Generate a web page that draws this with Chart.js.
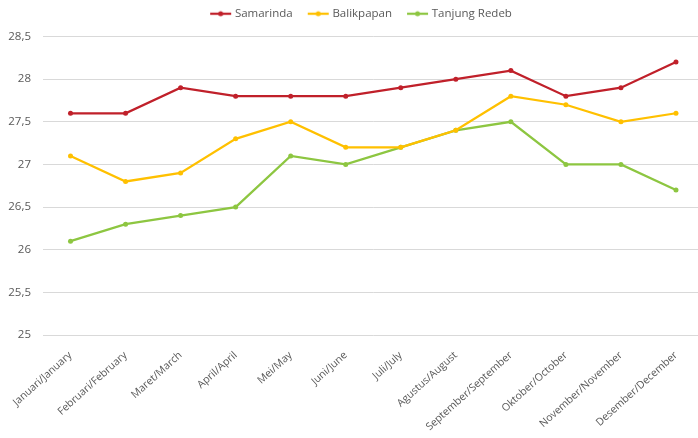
<!DOCTYPE html>
<html>
<head>
<meta charset="utf-8">
<script src="https://cdn.jsdelivr.net/npm/chart.js@4/dist/chart.umd.min.js"></script>
<style>
  html, body { margin: 0; padding: 0; background: #fff; overflow: hidden; width: 698px; height: 438px; }
  #c { display: block; }
</style>
</head>
<body>
<canvas id="c" width="706" height="438"></canvas>
<script>
const categories = ["Januari/January","Februari/February","Maret/March","April/April","Mei/May","Juni/June","Juli/July","Agustus/August","September/September","Oktober/October","November/November","Desember/December"];
const seriesNames = ["Samarinda", "Balikpapan", "Tanjung Redeb"];
const samarinda = [27.6, 27.6, 27.9, 27.8, 27.8, 27.8, 27.9, 28.0, 28.1, 27.8, 27.9, 28.2];
const balikpapan = [27.1, 26.8, 26.9, 27.3, 27.5, 27.2, 27.2, 27.4, 27.8, 27.7, 27.5, 27.6];
const tanjungRedeb = [26.1, 26.3, 26.4, 26.5, 27.1, 27.0, 27.2, 27.4, 27.5, 27.0, 27.0, 26.7];
const yTicks = [25, 25.5, 26, 26.5, 27, 27.5, 28, 28.5];

const colors = ["#C0202A", "#FFC000", "#8DC641"];

function legendIcon(color) {
  const cv = document.createElement('canvas');
  cv.width = 26; cv.height = 8;
  const g = cv.getContext('2d');
  g.strokeStyle = color; g.lineWidth = 2.25;
  g.beginPath(); g.moveTo(3, 4); g.lineTo(24, 4); g.stroke();
  g.fillStyle = color;
  g.beginPath(); g.arc(13.5, 4, 2.5, 0, Math.PI * 2); g.fill();
  return cv;
}

const dataArrays = [samarinda, balikpapan, tanjungRedeb];
const datasets = dataArrays.map((arr, i) => ({
  label: seriesNames[i],
  data: arr,
  borderColor: colors[i],
  backgroundColor: colors[i],
  borderWidth: 2.25,
  pointRadius: 2.5,
  pointHoverRadius: 2.5,
  pointBorderWidth: 0,
  pointStyle: 'circle',
  tension: 0,
  fill: false
}));
const icons = colors.map(legendIcon);

const legendSpace = {
  id: 'legendSpace',
  beforeInit(chart) {
    const lg = chart.legend;
    const origFit = lg.fit;
    lg.fit = function () { origFit.call(this); this.height += 7; };
    const origDraw = lg.draw;
    lg.draw = function () {
      const ctx = this.ctx;
      ctx.save(); ctx.translate(5, 0);
      origDraw.apply(this, arguments);
      ctx.restore();
    };
  }
};

Chart.defaults.font.family = "'Open Sans', 'DejaVu Sans', sans-serif";
Chart.defaults.color = "#595959";

new Chart(document.getElementById('c'), {
  type: 'line',
  data: { labels: categories, datasets },
  plugins: [legendSpace],
  options: {
    responsive: false,
    animation: false,
    layout: { padding: { left: 7, right: 0, top: -8, bottom: 0 } },
    plugins: {
      tooltip: { enabled: false },
      legend: {
        position: 'top',
        labels: {
          usePointStyle: true,
          pointStyleWidth: 18,
          boxHeight: 8,
          padding: 16,
          font: { size: 11.5 },
          color: "#595959",
          generateLabels(chart) {
            return chart.data.datasets.map((ds, i) => ({
              text: ds.label,
              fillStyle: ds.borderColor,
              strokeStyle: ds.borderColor,
              lineWidth: 0,
              pointStyle: icons[i],
              datasetIndex: i,
              hidden: false,
              fontColor: "#595959"
            }));
          }
        }
      }
    },
    scales: {
      x: {
        offset: true,
        grid: { display: false, drawTicks: false },
        border: { display: false },
        afterFit(s) { s.paddingLeft = 0; s.paddingRight = 0; s.height = 103; },
        ticks: {
          autoSkip: false,
          maxRotation: 42,
          minRotation: 42,
          padding: 14,
          font: { size: 10.5 },
          color: "#595959"
        }
      },
      y: {
        min: 25,
        max: 28.5,
        afterBuildTicks(scale) { scale.ticks = yTicks.map(v => ({ value: v })); },
        afterFit(s) { s.width = 36; },
        grid: { color: "#D9D9D9", lineWidth: 1, drawTicks: false },
        border: { display: false },
        ticks: {
          padding: 12,
          font: { size: 11.5 },
          color: "#595959",
          callback: v => String(v).replace('.', ',')
        }
      }
    }
  }
});
</script>
</body>
</html>
